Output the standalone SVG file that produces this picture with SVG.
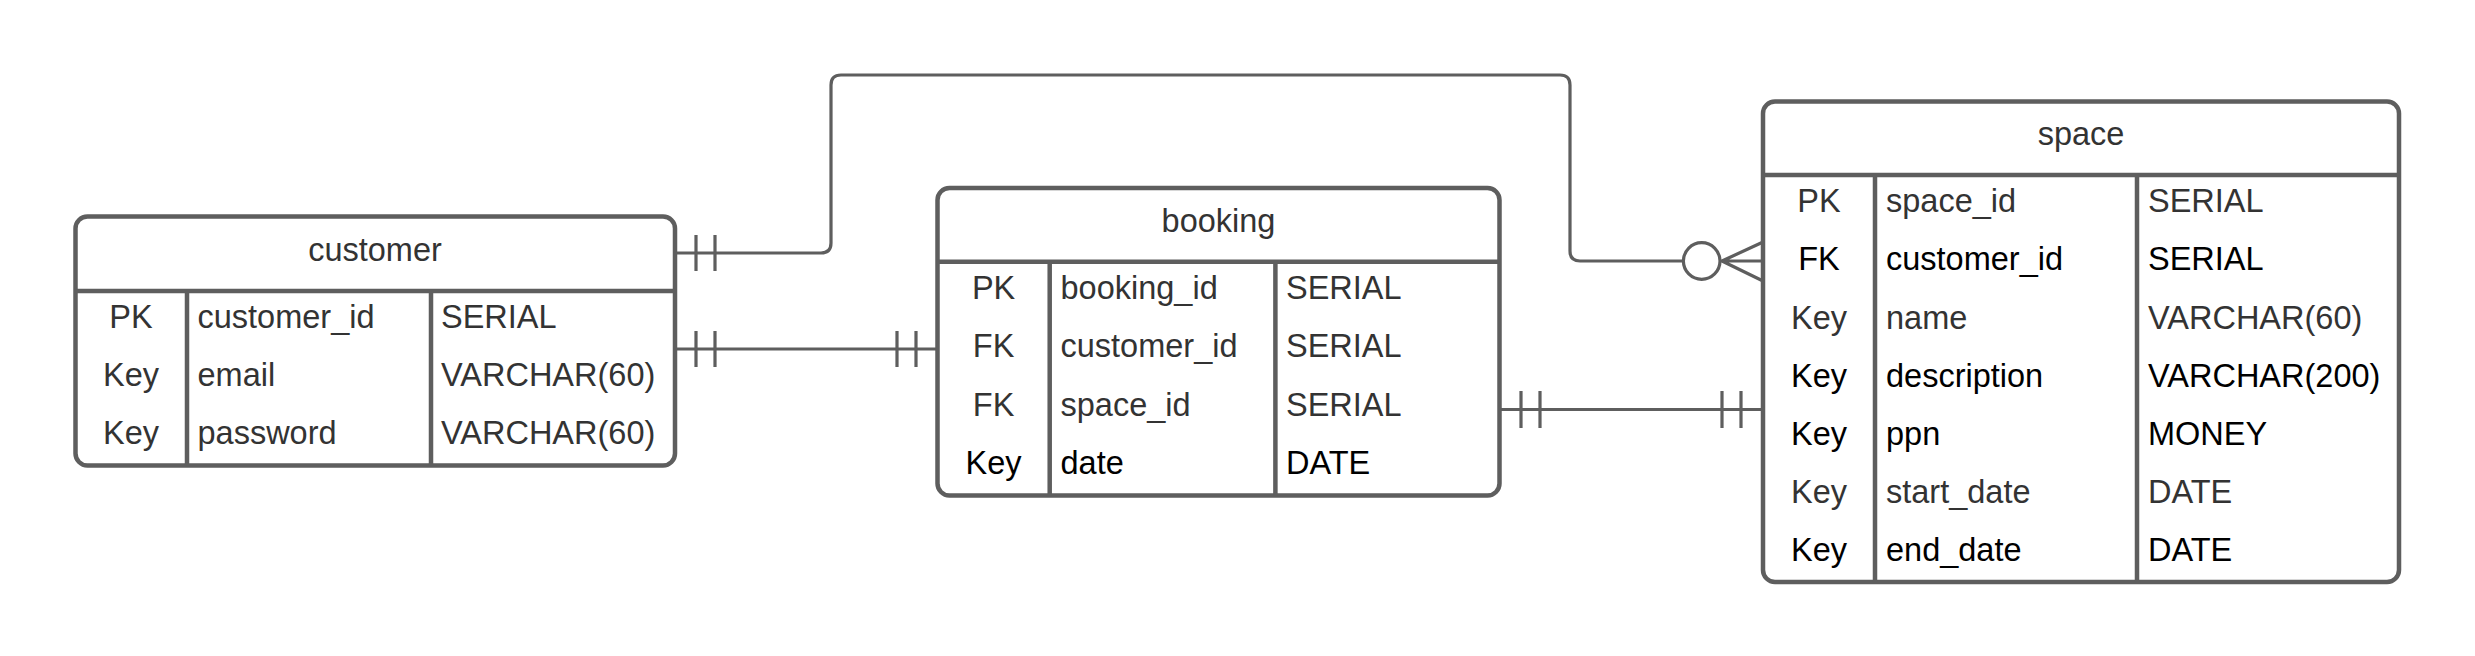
<svg xmlns="http://www.w3.org/2000/svg" width="2475" height="656" viewBox="0 0 2475 656">
<style>
.box{fill:#ffffff;stroke:#5e5e5e;stroke-width:4.5}
.div{stroke:#5e5e5e;stroke-width:4.5;fill:none}
.con{stroke:#5e5e5e;stroke-width:3.2;fill:none}
text{font-family:"Liberation Sans",Arial,sans-serif;font-size:32.5px;fill:#333333}
.c{text-anchor:middle}
.b{fill:#000000}
</style>
<rect width="2475" height="656" fill="#ffffff"/>
<g id="connectors">
  <path class="con" d="M675,253 H821 Q831,253 831,243 V85 Q831,75 841,75 H1560 Q1570,75 1570,85 V251 Q1570,261 1580,261 H1683.5"/>
  <circle class="con" cx="1701.7" cy="261" r="18.3"/>
  <path class="con" d="M1720,261 H1762 M1722,261 L1762,242.5 M1722,261 L1762,280.5"/>
  <path class="con" d="M696,235 V271 M715,235 V271"/>
  <path class="con" d="M675,349 H937.5"/>
  <path class="con" d="M696,331 V367 M715,331 V367 M897,331 V367 M916,331 V367"/>
  <path class="con" d="M1500,409.5 H1763"/>
  <path class="con" d="M1521,391 V428 M1540,391 V428 M1722,391 V428 M1741,391 V428"/>
</g>
<g id="customer">
  <rect class="box" x="75.5" y="216.5" width="599.5" height="249" rx="12"/>
  <path class="div" d="M75.5,291 H675 M187,291 V465.5 M431,291 V465.5"/>
  <text class="c" x="375" y="261">customer</text>
  <text class="c" x="131" y="328">PK</text>
  <text x="197.5" y="328">customer_id</text>
  <text x="441" y="328">SERIAL</text>
  <text class="c" x="131" y="386">Key</text>
  <text x="197.5" y="386">email</text>
  <text x="441" y="386">VARCHAR(60)</text>
  <text class="c" x="131" y="444">Key</text>
  <text x="197.5" y="444">password</text>
  <text x="441" y="444">VARCHAR(60)</text>
</g>
<g id="booking">
  <rect class="box" x="937.5" y="188" width="562" height="307.5" rx="12"/>
  <path class="div" d="M937.5,261.7 H1499.5 M1049.7,261.7 V495.5 M1275.4,261.7 V495.5"/>
  <text class="c" x="1218.5" y="232">booking</text>
  <text class="c" x="993.6" y="299">PK</text>
  <text x="1060.5" y="299">booking_id</text>
  <text x="1286" y="299">SERIAL</text>
  <text class="c" x="993.6" y="357">FK</text>
  <text x="1060.5" y="357">customer_id</text>
  <text x="1286" y="357">SERIAL</text>
  <text class="c" x="993.6" y="416">FK</text>
  <text x="1060.5" y="416">space_id</text>
  <text x="1286" y="416">SERIAL</text>
  <text class="c b" x="993.6" y="474">Key</text>
  <text class="b" x="1060.5" y="474">date</text>
  <text class="b" x="1286" y="474">DATE</text>
</g>
<g id="space">
  <rect class="box" x="1763" y="101.5" width="636" height="480.5" rx="12"/>
  <path class="div" d="M1763,175 H2399 M1875,175 V582 M2137,175 V582"/>
  <text class="c" x="2081" y="145">space</text>
  <text class="c" x="1819" y="212">PK</text>
  <text x="1886" y="212">space_id</text>
  <text x="2148" y="212">SERIAL</text>
  <text class="c b" x="1819" y="270">FK</text>
  <text class="b" x="1886" y="270">customer_id</text>
  <text class="b" x="2148" y="270">SERIAL</text>
  <text class="c" x="1819" y="328.5">Key</text>
  <text x="1886" y="328.5">name</text>
  <text x="2148" y="328.5">VARCHAR(60)</text>
  <text class="c b" x="1819" y="387">Key</text>
  <text class="b" x="1886" y="387">description</text>
  <text class="b" x="2148" y="387">VARCHAR(200)</text>
  <text class="c b" x="1819" y="445">Key</text>
  <text class="b" x="1886" y="445">ppn</text>
  <text class="b" x="2148" y="445">MONEY</text>
  <text class="c" x="1819" y="503">Key</text>
  <text x="1886" y="503">start_date</text>
  <text x="2148" y="503">DATE</text>
  <text class="c b" x="1819" y="561">Key</text>
  <text class="b" x="1886" y="561">end_date</text>
  <text class="b" x="2148" y="561">DATE</text>
</g>
</svg>
